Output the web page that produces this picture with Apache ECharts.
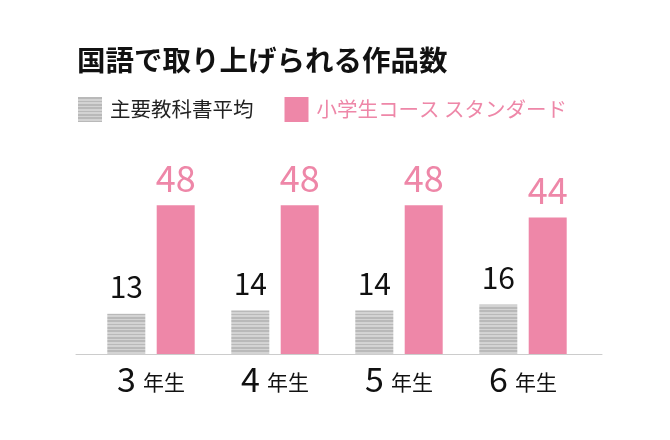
<!DOCTYPE html>
<html>
<head>
<meta charset="utf-8">
<script src="https://cdn.jsdelivr.net/npm/echarts@6/dist/echarts.min.js"></script>
<style>
html,body{margin:0;padding:0;background:#fff;}
#box{width:670px;height:440px;}
</style>
</head>
<body>
<div id="box"></div>
<script>
// 国語で取り上げられる作品数
var categories = ['3', '4', '5', '6'];
var kyokasho = [13, 14, 14, 16];   // 主要教科書平均
var standard = [48, 48, 48, 44];   // 小学生コース スタンダード
var seriesNames = ['主要教科書平均', '小学生コース スタンダード'];

var pink = '#ee87a8';
var font = '"Noto Sans CJK JP", "Noto Sans", sans-serif';

// グレーの横縞
function stripe(){
	var c = document.createElement('canvas');
	c.width = 4;
	c.height = 10;
	var ctx = c.getContext('2d');
	ctx.fillStyle = '#d3d3d3';
	ctx.fillRect(0, 0, 4, 10);
	ctx.fillStyle = '#b9b9b9';
	[0, 1, 4, 7, 8].forEach(function(y){
		ctx.fillRect(0, y, 4, 1);
	});
	return c;
}

var myChart = echarts.init(document.getElementById('box'));
var option = {
	backgroundColor: '#fff',
	textStyle: {fontFamily: font},
	title: {
		text: '国語で取り上げられる作品数',
		left: 72,
		top: 41,
		textStyle: {fontSize: 28.5, fontWeight: 'bold', color: '#111', fontFamily: font}
	},
	legend: {
		left: 73,
		top: 92,
		icon: 'rect',
		itemWidth: 24,
		itemHeight: 25,
		itemGap: 31,
		textStyle: {fontSize: 20.5, fontFamily: font, padding: [0, 0, 0, 3]},
		data: [
			{name: seriesNames[0], textStyle: {color: '#222'}},
			{name: seriesNames[1], textStyle: {color: pink}}
		]
	},
	grid: [
		{left: 89, width: 496, top: 168, bottom: 86},
		{left: 76, right: 68, top: 168, bottom: 86}
	],
	xAxis: [
		{
			type: 'category',
			gridIndex: 0,
			data: categories,
			axisLine: {show: false},
			axisTick: {show: false},
			axisLabel: {
				margin: 8,
				formatter: function(v){ return '{a|' + v + '}{b|年生}'; },
				rich: {
					a: {fontSize: 34, color: '#111', fontFamily: font, padding: [0, 7, 0, 0]},
					b: {fontSize: 21, color: '#111', fontFamily: font, padding: [6, 0, 0, 0]}
				}
			}
		},
		{
			type: 'value',
			gridIndex: 1,
			min: 0,
			max: 1,
			axisLine: {show: true, lineStyle: {color: '#cccccc', width: 1}},
			axisTick: {show: false},
			axisLabel: {show: false},
			splitLine: {show: false}
		}
	],
	yAxis: [
		{type: 'value', gridIndex: 0, min: 0, max: 60, show: false},
		{type: 'value', gridIndex: 1, show: false}
	],
	series: [
		{
			name: seriesNames[0],
			type: 'bar',
			barWidth: 38,
			barGap: '30%',
			data: kyokasho,
			itemStyle: {color: {image: stripe(), repeat: 'repeat'}},
			label: {
				show: true,
				position: 'top',
				distance: 12,
				fontSize: 30,
				color: '#111',
				fontFamily: font
			}
		},
		{
			name: seriesNames[1],
			type: 'bar',
			barWidth: 38,
			data: standard,
			itemStyle: {color: pink},
			label: {
				show: true,
				position: 'top',
				distance: 9,
				fontSize: 36,
				color: pink,
				fontFamily: font
			}
		}
	]
};
myChart.setOption(option, true);
</script>
</body>
</html>
